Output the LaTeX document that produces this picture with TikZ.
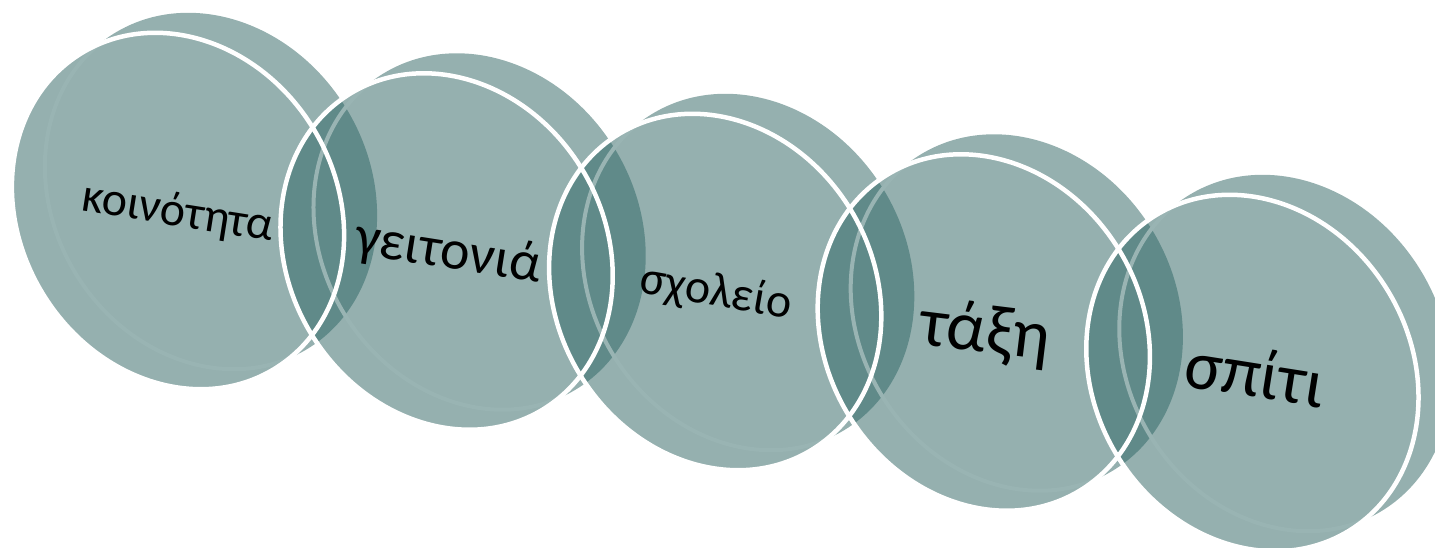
\documentclass[tikz,border=0pt]{standalone}
\usepackage{fontspec}
\setmainfont{Carlito}
\usepackage{tikz}
\usetikzlibrary{positioning}
\definecolor{disclight}{RGB}{149,176,175}
\definecolor{discdark}{RGB}{96,138,137}
\definecolor{discrim}{RGB}{153,180,179}
\tikzstyle{discword} = [rotate=-9, 
inner sep=0pt, 
anchor=base, 
text=black]
\tikzstyle{discedge} = [white, line width=4.5]
\tikzstyle{backrim} = [discrim, line width=4]
% one tilted disc round a centre
\newcommand{\disc}[1]{(#1) circle [x radius=185, y radius=158.5, rotate=-58.6]}

\begin{document}
\begin{tikzpicture}[x=1pt, y=1pt]

        \clip (0,0) rectangle (1435,-547);

        % front and back centres of the five discs
        \foreach \i in {1,...,5} {
            \coordinate (f\i) at ({178+268.6*(\i-1)}, {-211-40.5*(\i-1)});
            \coordinate (b\i) at ({211+268.6*(\i-1)}, {-191-40.5*(\i-1)});
        }

        % bodies
        \foreach \i in {1,...,5}
            \fill [disclight] \disc{f\i} \disc{b\i};

        % where two neighbours overlap
        \foreach \i/\j in {1/2, 2/3, 3/4, 4/5} {
            \begin{scope}
                \clip \disc{f\i} \disc{b\i};
                \fill [discdark] \disc{f\j} \disc{b\j};
            \end{scope}
        }

        % rim of the back disc, seen through the front one
        \foreach \i in {1,...,5} {
            \begin{scope}
                \clip \disc{f\i};
                \draw [backrim] \disc{b\i};
            \end{scope}
        }

        % white edges of the front discs
        \foreach \i in {1,...,5}
            \draw [discedge] \disc{f\i};

        \node (community) [discword, font=\fontsize{48}{52}\selectfont] 
        at (176,-226) {κοινότητα};
        \node (neighbourhood) [discword, font=\fontsize{56}{60}\selectfont] 
        at (446,-268) {γειτονιά};
        \node (school) [discword, rotate=-1, font=\fontsize{48}{52}\selectfont] 
        at (714,-306) {σχολείο};
        \node (classroom) [discword, rotate=2, font=\fontsize{70}{76}\selectfont] 
        at (983,-352) {τάξη};
        \node (home) [discword, font=\fontsize{70}{76}\selectfont] 
        at (1252,-397) {σπίτι};

\end{tikzpicture}
\end{document}
